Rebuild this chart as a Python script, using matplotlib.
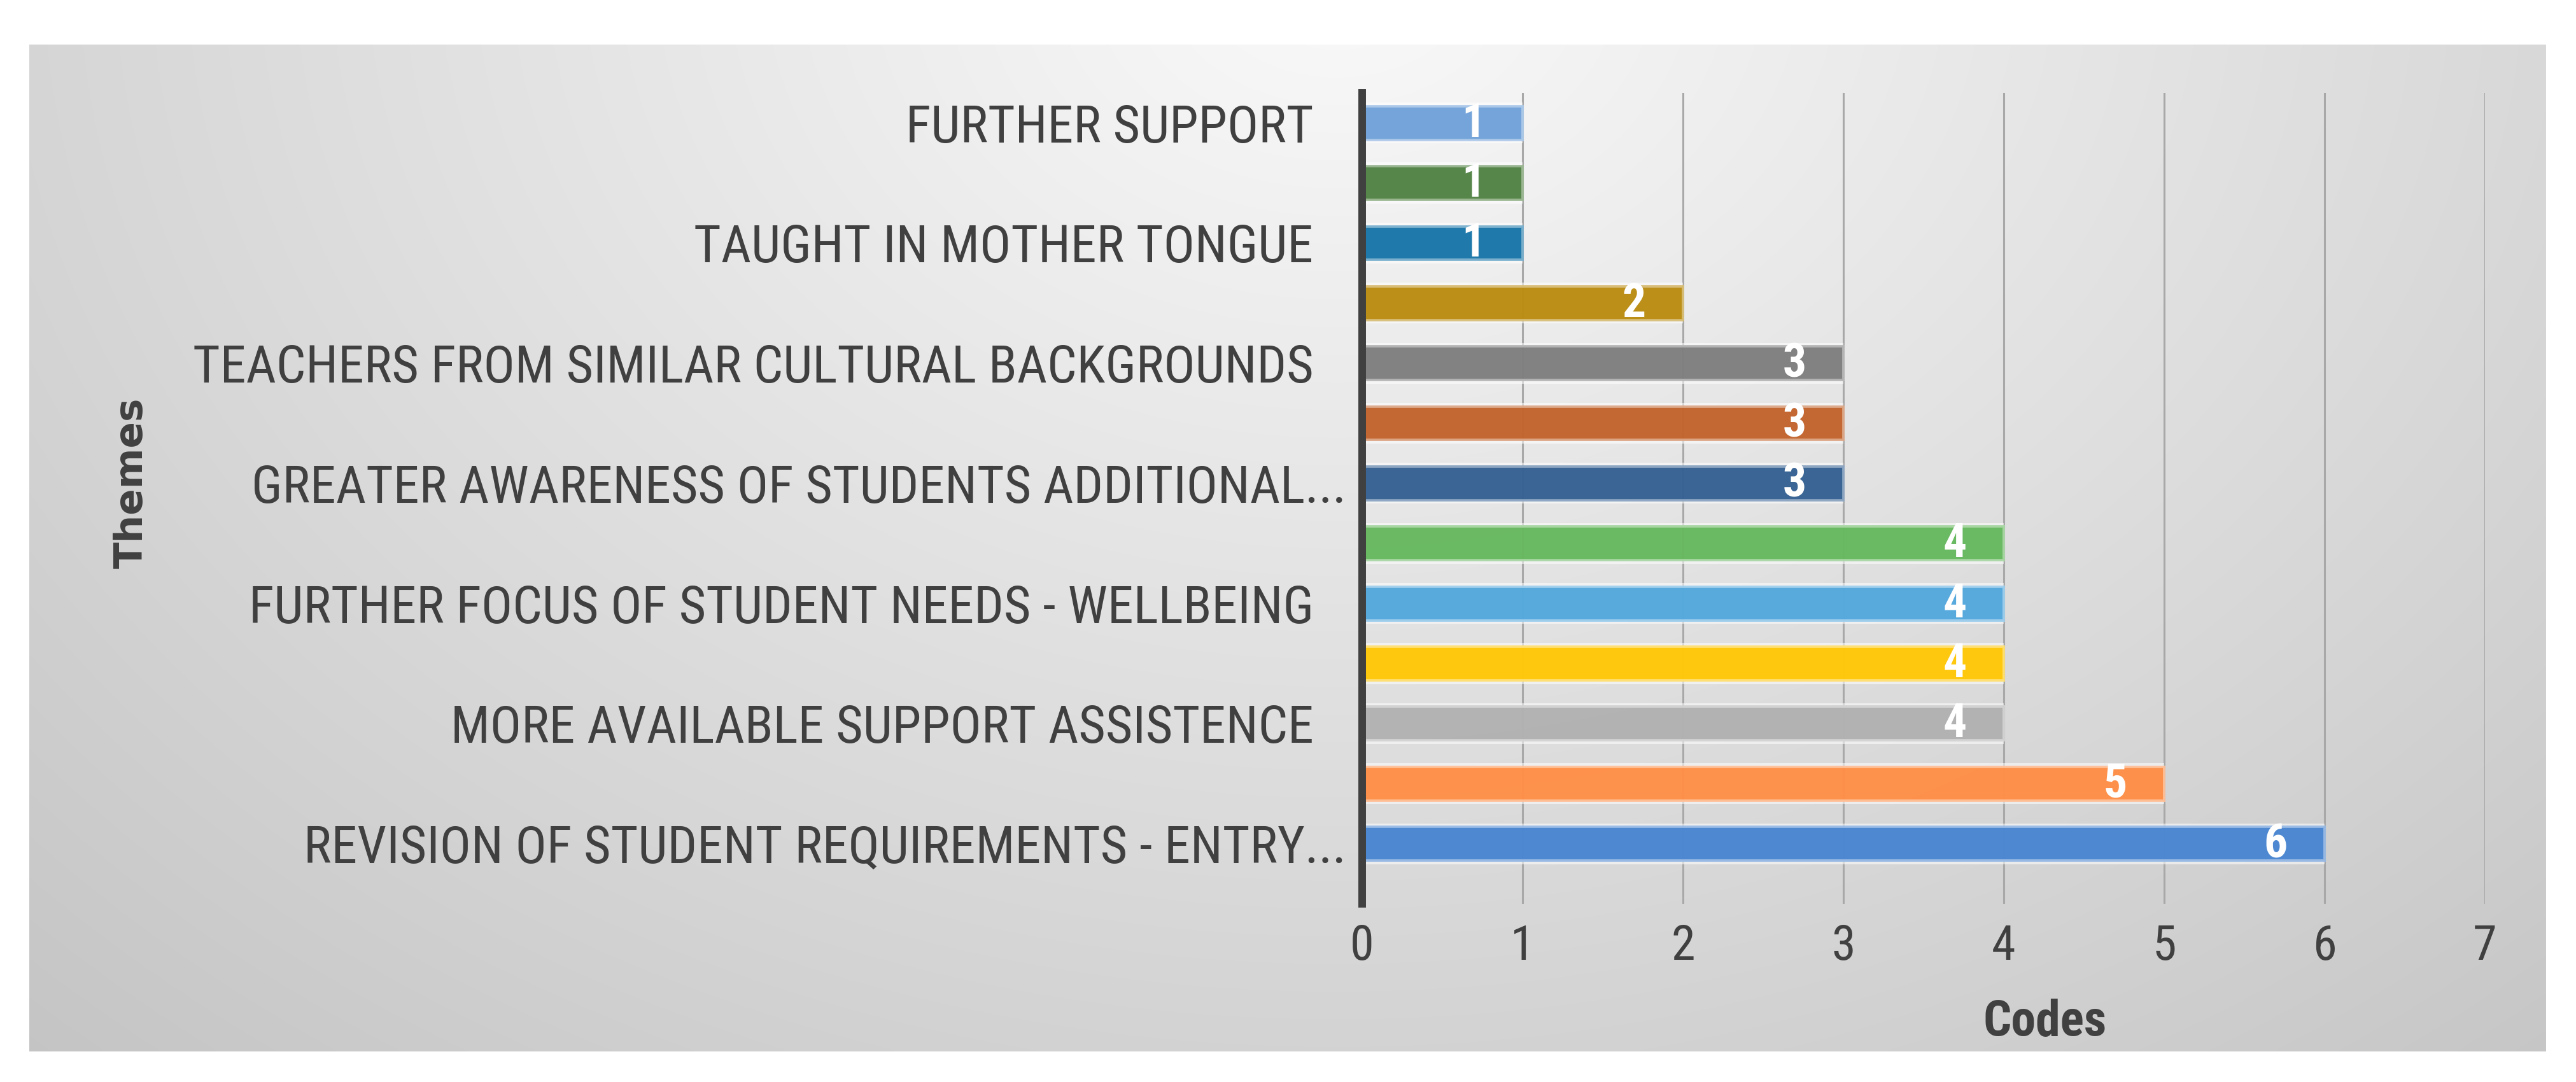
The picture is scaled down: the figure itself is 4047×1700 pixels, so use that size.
import matplotlib
matplotlib.use("Agg")
import matplotlib.pyplot as plt
import matplotlib.transforms as mtransforms
from matplotlib import font_manager
import numpy as np

# data, bottom bar first
themes = ['REVISION OF STUDENT REQUIREMENTS - ENTRY...', '',
          'MORE AVAILABLE SUPPORT ASSISTENCE', '',
          'FURTHER FOCUS OF STUDENT NEEDS - WELLBEING', '',
          'GREATER AWARENESS OF STUDENTS ADDITIONAL...', '',
          'TEACHERS FROM SIMILAR CULTURAL BACKGROUNDS', '',
          'TAUGHT IN MOTHER TONGUE', '',
          'FURTHER SUPPORT']
codes = [6, 5, 4, 4, 4, 4, 3, 3, 3, 2, 1, 1, 1]
bar_colors = ['#4382d0', '#ff8c42', '#afafaf', '#ffc600', '#4ea6dc', '#62b65a',
              '#2e5c8f', '#c05f27', '#7b7b7b', '#b8890a', '#1172a6', '#4c7f3f', '#6c9fd8']
x_ticks = [0, 1, 2, 3, 4, 5, 6, 7]

# condensed font, falls back to condensed DejaVu
names = set(f.name for f in font_manager.fontManager.ttflist)
if 'Roboto Condensed' in names:
    cond = dict(family='Roboto Condensed')
else:
    cond = dict(family='DejaVu Sans', fontstretch='condensed')

W, H = 4047, 1700
DPI = 100
fig = plt.figure(figsize=(W / DPI, H / DPI), dpi=DPI)
fig.patch.set_facecolor('white')

# gray gradient panel behind the chart
px0, py0, px1, py1 = 46, 70, 4000, 1652
bg = fig.add_axes([px0 / W, 1 - py1 / H, (px1 - px0) / W, (py1 - py0) / H], zorder=0)
gx, gy = np.meshgrid(np.arange(px0, px1, 4), np.arange(py0, py1, 4))
d = np.sqrt(((gx - 2100) / 1.3) ** 2 + (gy + 50) ** 2)
shade = np.clip(0.98 - 9.0e-5 * d, 0.74, 1.0)
bg.imshow(np.dstack([shade] * 3), aspect='auto', interpolation='bilinear')
bg.axis('off')

# main axes
ax = fig.add_axes([2140 / W, 1 - 1420 / H, (3904 - 2140) / W, (1420 - 146) / H], zorder=1)
ax.patch.set_alpha(0)

y = np.arange(len(codes))
bh = 0.56


def tint(c, f):
    r, g, b = matplotlib.colors.to_rgb(c)
    return (r + (1 - r) * f, g + (1 - g) * f, b + (1 - b) * f)


# soft white glow, then the bars with a lighter edge
ax.barh(y, codes, height=bh + 0.12, color='white', alpha=0.55, linewidth=0, zorder=2)
ax.barh(y, codes, height=bh, color=bar_colors, alpha=0.94,
        edgecolor=[tint(c, 0.45) for c in bar_colors], linewidth=2.8, zorder=3)

# value labels inside bar ends
for yi, v in zip(y, codes):
    ax.annotate(str(v), xy=(v, yi), xytext=(-42, -1), textcoords='offset points',
                ha='right', va='center', color='white', fontsize=53,
                fontweight='bold', zorder=4, **cond)

ax.set_xlim(0, 7)
ax.set_ylim(-1.0, 12.5)
ax.set_xticks(x_ticks)
ax.set_xticklabels([str(t) for t in x_ticks], fontsize=55, color='#404040', **cond)
ax.set_yticks(y)
ax.set_yticklabels(themes, fontsize=59, color='#404040', **cond)
ax.tick_params(axis='x', length=0, pad=22)
ax.tick_params(axis='y', length=0, pad=55)

# truncated labels sit a bit further right
for lab in ax.get_yticklabels():
    if lab.get_text().endswith('...'):
        lab.set_transform(lab.get_transform() +
                          mtransforms.ScaledTranslation(51 / DPI, 0, fig.dpi_scale_trans))

ax.grid(axis='x', color='#a8a8a8', linewidth=2.2, zorder=1)
ax.grid(axis='y', visible=False)
ax.set_axisbelow(True)
for s in ['top', 'right', 'bottom']:
    ax.spines[s].set_visible(False)
ax.spines['left'].set_color('#404040')
ax.spines['left'].set_linewidth(8.6)
ax.spines['left'].set_zorder(5)

fig.text(3213 / W, 1 - 1605 / H, 'Codes', ha='center', va='center',
         fontsize=56, fontweight='bold', color='#404040', zorder=2, **cond)
fig.text(207 / W, 1 - 759 / H, 'Themes', ha='center', va='center', rotation=90,
         fontsize=44, fontweight='bold', color='#404040', zorder=2)

fig.savefig('out.png', dpi=DPI)
